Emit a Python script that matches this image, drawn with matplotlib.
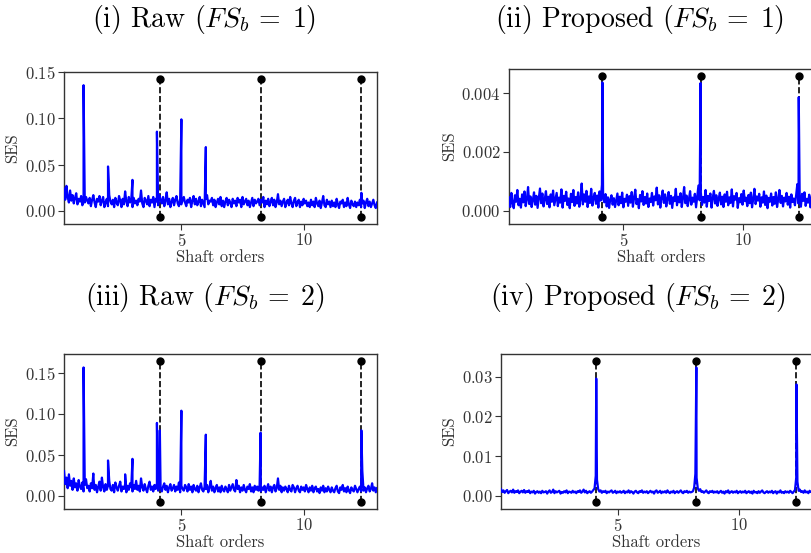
# -*- coding: utf-8 -*-
# squared envelope spectra: raw vs proposed, two filter settings

import numpy as np
import matplotlib
matplotlib.use("Agg")
import matplotlib.pyplot as plt

plt.rcParams.update({
    "font.family": "cmr10",
    "mathtext.fontset": "cm",
    "axes.formatter.use_mathtext": True,
    "axes.unicode_minus": False,
})

# data
fault_orders = [4.12, 8.24, 12.36]
x_start, x_stop = 0.2, 13.0

# (i) raw, FS_b = 1 -- noise floor in 1e-3
raw1_noise = [
    24, 12, 27, 15, 9, 22, 11, 17, 8, 14, 19, 7, 13, 10, 16, 6, 12, 9, 15, 11,
    8, 14, 5, 12, 17, 9, 4, 13, 10, 16, 6, 11, 15, 4, 9, 13, 5, 17, 10, 7,
    12, 4, 14, 9, 6, 16, 11, 4, 13, 7, 21, 10, 5, 15, 9, 12, 4, 14, 8, 11,
    6, 13, 10, 22, 8, 4, 14, 11, 7, 16, 5, 12, 9, 15, 4, 13, 10, 6, 17, 12,
    8, 15, 5, 11, 20, 7, 13, 4, 10, 14, 6, 12, 16, 8, 5, 13, 7, 11, 15, 9,
    5, 12, 9, 14, 4, 11, 16, 7, 13, 6, 10, 15, 5, 12, 8, 4, 13, 17, 7, 11,
    10, 14, 6, 12, 4, 9, 13, 7, 15, 5, 11, 4, 10, 14, 6, 12, 9, 4, 13, 8,
    11, 5, 14, 9, 12, 4, 15, 7, 10, 13, 6, 11, 4, 9, 14, 5, 12, 8, 10, 13,
    6, 12, 9, 15, 4, 11, 7, 13, 5, 10, 14, 6, 12, 4, 9, 18, 7, 11, 5, 10,
    13, 4, 9, 12, 6, 15, 8, 4, 11, 14, 5, 9, 12, 4, 10, 6, 13, 8, 11, 5,
    9, 4, 12, 6, 10, 4, 14, 8, 5, 11, 3, 9, 16, 6, 4, 12, 7, 10, 4, 11,
    5, 9, 4, 13, 7, 3, 10, 8, 12, 4, 9, 5, 14, 7, 3, 11, 7, 5, 10, 4,
    9, 6, 12, 4, 8, 11, 3, 9, 13, 5, 10, 4, 8, 12, 6, 3, 9,
]
raw1_peak_x = [1.0, 2.0, 3.0, 3.35, 4.0, 5.0, 6.0, 12.36]
raw1_peak_y = [0.136, 0.048, 0.0335, 0.022, 0.0857, 0.099, 0.069, 0.0195]

# (ii) proposed, FS_b = 1 -- noise floor in 1e-5
prop1_noise = [
    45, 12, 60, 25, 8, 52, 30, 70, 18, 40, 10, 55, 28, 65, 15, 38, 80, 22, 48, 12,
    35, 62, 20, 50, 9, 42, 75, 25, 58, 14, 38, 66, 22, 47, 11, 55, 30, 68, 18, 40,
    60, 15, 44, 27, 72, 10, 50, 33, 64, 19, 41, 8, 57, 29, 70, 16, 46, 24, 62, 13,
    38, 92, 21, 55, 30, 67, 12, 48, 26, 74, 17, 43, 60, 23, 51, 10, 65, 34, 88, 40,
    28, 56, 14, 45, 9, 38, 52, 20, 42, 12, 35, 58, 18, 47, 25, 61, 11, 40, 30, 54,
    16, 49, 27, 63, 13, 44, 71, 22, 39, 8, 53, 31, 66, 19, 46, 24, 58, 12, 41, 29,
    60, 17, 48, 35, 78, 21, 52, 10, 43, 68, 26, 55, 14, 40, 63, 23, 50, 9, 45, 32,
    74, 18, 47, 28, 59, 12, 42, 80, 25, 51, 15, 38, 66, 20, 44, 30, 57, 11, 48, 85,
    35, 62, 19, 46, 27, 70, 13, 50, 33, 58, 10, 43, 67, 24, 52, 16, 40, 61, 21, 47,
    12, 55, 30, 64, 18, 45, 26, 72, 14, 49, 37, 60, 9, 42, 28, 56, 20, 68, 32, 44,
    15, 53, 25, 61, 11, 40, 74, 22, 48, 34, 57, 13, 45, 27, 65, 19, 51, 8, 43, 30,
    58, 17, 46, 23, 62, 12, 39, 70, 26, 50, 14, 44, 31, 60, 20, 47, 10, 55, 29, 41,
    18, 52, 90, 24, 45, 13, 57, 33, 62, 16, 40, 27, 54, 11, 46, 30, 58,
]
prop1_peak_x = [4.12, 8.24, 12.36]
prop1_peak_y = [0.00436, 0.00434, 0.00386]

# (iii) raw, FS_b = 2 -- noise floor in 1e-3
raw2_noise = [
    30, 14, 22, 9, 26, 12, 18, 7, 21, 10, 15, 6, 19, 11, 8, 16, 5, 13, 20, 9,
    12, 5, 15, 9, 24, 7, 13, 4, 11, 17, 6, 22, 10, 5, 14, 7, 12, 18, 8, 6,
    13, 4, 16, 10, 6, 12, 17, 5, 11, 8, 14, 4, 12, 7, 15, 10, 5, 13, 8, 18,
    7, 12, 5, 21, 10, 6, 14, 8, 4, 12, 17, 7, 11, 5, 13, 8, 15, 6, 12, 10,
    5, 11, 15, 7, 12, 4, 10, 14, 6, 9, 13, 5, 11, 7, 16, 4, 12, 8, 6, 13,
    10, 5, 14, 7, 11, 4, 13, 8, 6, 12, 4, 10, 15, 7, 5, 11, 8, 13, 4, 10,
    18, 6, 11, 4, 9, 13, 5, 10, 4, 12, 7, 5, 11, 8, 4, 13, 6, 10, 14, 7,
    5, 19, 8, 12, 4, 10, 6, 13, 7, 4, 11, 8, 14, 5, 10, 4, 12, 7, 11, 6,
    13, 5, 10, 7, 12, 4, 9, 14, 6, 11, 4, 10, 13, 5, 9, 21, 7, 12, 4, 10,
    6, 11, 8, 4, 12, 7, 5, 13, 10, 4, 9, 12, 6, 4, 11, 7, 10, 5, 13, 8,
    4, 10, 6, 12, 4, 9, 11, 5, 8, 3, 10, 6, 12, 4, 9, 5, 11, 7, 4, 10,
    6, 4, 9, 12, 5, 3, 10, 7, 13, 5, 9, 4, 11, 6, 3, 10, 7, 5, 12, 8,
    4, 8, 11, 5, 30, 6, 10, 4, 9, 12, 5, 8, 15, 6, 10, 4, 9,
]
raw2_peak_x = [1.0, 1.4, 2.0, 2.7, 3.0, 4.0, 4.12, 5.0, 6.0, 8.24, 12.36]
raw2_peak_y = [0.157, 0.027, 0.043, 0.026, 0.045, 0.089, 0.080, 0.104, 0.0746, 0.077, 0.080]

# (iv) proposed, FS_b = 2 -- noise floor in 1e-4
prop2_noise = [
    16, 9, 13, 7, 11, 14, 6, 10, 12, 8, 15, 7, 11, 9, 13, 6, 10, 12, 8, 14,
    7, 11, 9, 13, 6, 10, 8, 12, 5, 9, 11, 7, 10, 6, 12, 8, 9, 11, 5, 10,
    13, 7, 9, 15, 6, 11, 8, 10, 12, 5, 9, 7, 11, 8, 13, 6, 10, 9, 7, 12,
    8, 10, 6, 11, 9, 13, 7, 10, 15, 8, 12, 6, 9, 11, 7, 10, 14, 18, 50, 40,
    16, 10, 13, 7, 11, 9, 12, 6, 10, 8, 11, 13, 7, 9, 12, 6, 10, 8, 11, 7,
    9, 12, 6, 10, 8, 13, 7, 11, 9, 5, 10, 12, 8, 6, 11, 9, 13, 7, 10, 8,
    11, 6, 9, 12, 8, 10, 5, 11, 13, 7, 9, 12, 6, 10, 8, 11, 7, 13, 9, 6,
    10, 8, 12, 6, 9, 11, 7, 10, 13, 8, 6, 11, 9, 12, 7, 10, 8, 9, 11, 20,
    55, 45, 18, 12, 16, 9, 11, 7, 10, 13, 8, 6, 11, 9, 12, 7, 10, 8, 11, 6,
    9, 12, 7, 10, 5, 11, 8, 13, 6, 9, 11, 7, 10, 8, 12, 6, 9, 11, 7, 10,
    8, 12, 6, 9, 11, 7, 10, 5, 12, 8, 9, 6, 11, 7, 10, 13, 8, 6, 9, 11,
    7, 10, 8, 12, 6, 9, 11, 5, 10, 8, 13, 7, 9, 6, 11, 8, 10, 7, 12, 9,
    6, 10, 14, 45, 35, 12, 15, 9, 11, 7, 13, 8, 10, 6, 12, 9, 11,
]
prop2_peak_x = [4.12, 8.24, 12.36]
prop2_peak_y = [0.0296, 0.0324, 0.0281]

panels = [
    (r"(i) Raw ($FS_b\,=\;1$)", raw1_noise, 1e-3, raw1_peak_x, raw1_peak_y),
    (r"(ii) Proposed ($FS_b\,=\;1$)", prop1_noise, 1e-5, prop1_peak_x, prop1_peak_y),
    (r"(iii) Raw ($FS_b\,=\;2$)", raw2_noise, 1e-3, raw2_peak_x, raw2_peak_y),
    (r"(iv) Proposed ($FS_b\,=\;2$)", prop2_noise, 1e-4, prop2_peak_x, prop2_peak_y),
]

W, H = 811, 553
# axes boxes in pixels: left, top, right, bottom
boxes = [
    (64, 72, 377, 224),
    (509, 69, 814, 224),
    (64, 354, 377, 509),
    (501, 354, 812, 509),
]
# title centres in pixels
title_pos = [(204, 19), (640, 19), (205, 298), (638, 298)]

grey = "#333333"

fig = plt.figure(figsize=(W / 100, H / 100), dpi=100)

for (title, noise, unit, px, py), box, tp in zip(panels, boxes, title_pos):
    l, t, r, b = box
    ax = fig.add_axes([l / W, (H - b) / H, (r - l) / W, (b - t) / H])

    grid = np.linspace(x_start, x_stop, len(noise))
    xs = np.concatenate([grid, px])
    ys = np.concatenate([np.array(noise) * unit, py])
    order = np.argsort(xs, kind="stable")
    xs, ys = xs[order], ys[order]

    top = ys.max()
    for f in fault_orders:
        ax.plot([f, f], [-0.05 * top, 1.05 * top], color="k", ls="--",
                lw=1.2, marker="o", ms=5, zorder=2)
    ax.plot(xs, ys, color="#0000ff", lw=1.6, zorder=3)

    ax.set_xlim(x_start, x_stop)
    ax.set_xticks([5, 10])
    ax.set_xlabel("Shaft orders", fontsize=12, color=grey, labelpad=0)
    ax.set_ylabel("SES", fontsize=12, color=grey, labelpad=3)
    ax.tick_params(labelsize=12, colors=grey, length=4, width=0.8, pad=2)
    for s in ax.spines.values():
        s.set_color(grey)
        s.set_linewidth(1.0)

    fig.text(tp[0] / W, 1 - tp[1] / H, title, fontsize=20,
             ha="center", va="center", color="k")

fig.savefig("out.png", dpi=100)
